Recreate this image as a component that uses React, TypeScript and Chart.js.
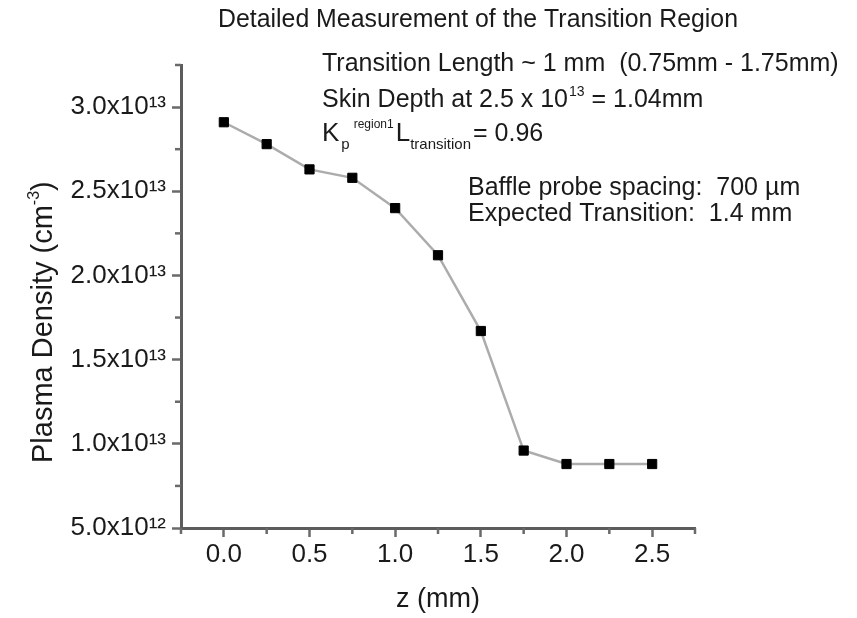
import React, { useEffect, useRef } from 'react';
import { Chart, registerables } from 'chart.js';

Chart.register(...registerables);

// ---- data ----
const zMm = [0, 0.25, 0.5, 0.75, 1.0, 1.25, 1.5, 1.75, 2.0, 2.25, 2.5];
const plasmaDensity = [2.91e13, 2.78e13, 2.63e13, 2.58e13, 2.40e13, 2.12e13, 1.67e13, 9.6e12, 8.8e12, 8.8e12, 8.8e12];

const xMajorTicks = [0, 0.5, 1.0, 1.5, 2.0, 2.5];
const xMinorTicks = [-0.25, 0.25, 0.75, 1.25, 1.75, 2.25, 2.75];
const yMajorTicks = [5e12, 1e13, 1.5e13, 2e13, 2.5e13, 3e13];
const yMinorTicks = [7.5e12, 1.25e13, 1.75e13, 2.25e13, 2.75e13, 3.25e13];

const chartTitle = 'Detailed Measurement of the Transition Region';
const xTitle = 'z (mm)';
const yTitleMain = 'Plasma Density (cm';
const yTitleSup = '-3';
const yTitleEnd = ')';
const noteTransition = 'Transition Length ~ 1 mm  (0.75mm - 1.75mm)';
const noteSkinA = 'Skin Depth at 2.5 x 10';
const noteSkinSup = '13';
const noteSkinB = ' = 1.04mm';
const noteK = 'K';
const noteKSub = 'p';
const noteKSup = 'region1';
const noteL = 'L';
const noteLSub = 'transition';
const noteKEnd = '= 0.96';
const noteBaffle = 'Baffle probe spacing:  700 \u00b5m';
const noteExpected = 'Expected Transition:  1.4 mm';

const FAM = "'Liberation Sans', Arial, Helvetica, sans-serif";
const TEXT = '#1a1a1a';
const AXIS = '#5c5c5c';

const SUP: Record<string, string> = {
  '0': '\u2070', '1': '\u00b9', '2': '\u00b2', '3': '\u00b3', '4': '\u2074',
  '5': '\u2075', '6': '\u2076', '7': '\u2077', '8': '\u2078', '9': '\u2079', '-': '\u207b',
};

function sci(v: number): string {
  const e = Math.floor(Math.log10(v) + 1e-9);
  const m = v / Math.pow(10, e);
  return m.toFixed(1) + 'x10' + String(e).split('').map((c) => SUP[c] || c).join('');
}

type Run = { t: string; size: number; dy?: number; gap?: number };

function drawRuns(ctx: CanvasRenderingContext2D, x: number, y: number, runs: Run[]) {
  let cx = x;
  for (const r of runs) {
    ctx.font = `${r.size}px ${FAM}`;
    cx += r.gap || 0;
    ctx.fillText(r.t, cx, y + (r.dy || 0));
    cx += ctx.measureText(r.t).width;
  }
  return cx;
}

const minorTickPlugin = {
  id: 'minorTicks',
  afterDraw(chart: any) {
    const { ctx, chartArea, scales } = chart;
    ctx.save();
    ctx.strokeStyle = '#6a6a6a';
    ctx.lineWidth = 2.5;
    xMinorTicks.forEach((v) => {
      const px = scales.x.getPixelForValue(v);
      ctx.beginPath();
      ctx.moveTo(px, chartArea.bottom);
      ctx.lineTo(px, chartArea.bottom + 6);
      ctx.stroke();
    });
    yMinorTicks.forEach((v) => {
      const py = scales.y.getPixelForValue(v);
      ctx.beginPath();
      ctx.moveTo(chartArea.left, py);
      ctx.lineTo(chartArea.left - 6, py);
      ctx.stroke();
    });
    ctx.restore();
  },
};

const annotationPlugin = {
  id: 'annotations',
  afterDraw(chart: any) {
    const ctx: CanvasRenderingContext2D = chart.ctx;
    ctx.save();
    ctx.fillStyle = TEXT;
    ctx.textAlign = 'left';
    ctx.textBaseline = 'alphabetic';

    ctx.font = `25px ${FAM}`;
    ctx.fillText(chartTitle, 218, 27, 520);

    drawRuns(ctx, 322, 71, [{ t: noteTransition, size: 25 }]);
    drawRuns(ctx, 322, 107, [
      { t: noteSkinA, size: 25 },
      { t: noteSkinSup, size: 14, dy: -11, gap: 1 },
      { t: noteSkinB, size: 25 },
    ]);
    drawRuns(ctx, 322, 141, [
      { t: noteK, size: 26 },
      { t: noteKSub, size: 15, dy: 8, gap: 2 },
      { t: noteKSup, size: 12, dy: -13, gap: 4 },
      { t: noteL, size: 26, gap: 2 },
      { t: noteLSub, size: 15, dy: 8 },
      { t: noteKEnd, size: 25, gap: 2 },
    ]);
    drawRuns(ctx, 468, 195, [{ t: noteBaffle, size: 25 }]);
    drawRuns(ctx, 468, 221, [{ t: noteExpected, size: 25 }]);

    // y axis title, rotated
    ctx.translate(52, 463);
    ctx.rotate(-Math.PI / 2);
    drawRuns(ctx, 0, 0, [
      { t: yTitleMain, size: 29 },
      { t: yTitleSup, size: 16, dy: -13 },
      { t: yTitleEnd, size: 29 },
    ]);
    ctx.restore();
  },
};

export default function App() {
  const ref = useRef<HTMLCanvasElement>(null);

  useEffect(() => {
    const canvas = ref.current;
    if (!canvas) return;
    const chart = new Chart(canvas, {
      type: 'line',
      data: {
        datasets: [
          {
            data: zMm.map((z, i) => ({ x: z, y: plasmaDensity[i] })),
            borderColor: '#acacac',
            borderWidth: 2.5,
            pointStyle: 'rect',
            pointRadius: 6.5,
            pointBackgroundColor: '#000',
            pointBorderColor: '#000',
            pointBorderWidth: 1,
            tension: 0,
            fill: false,
          },
        ],
      },
      options: {
        animation: false,
        responsive: true,
        maintainAspectRatio: false,
        devicePixelRatio: 1,
        events: [],
        layout: { padding: { top: 65, right: 162, bottom: 0, left: 0 } },
        plugins: {
          legend: { display: false },
          tooltip: { enabled: false },
          title: { display: false },
        },
        scales: {
          x: {
            type: 'linear',
            min: -0.25,
            max: 2.75,
            afterFit: (s: any) => { s.height = 90; },
            afterBuildTicks: (s: any) => { s.ticks = xMajorTicks.map((v) => ({ value: v })); },
            ticks: {
              callback: (v: any) => Number(v).toFixed(1),
              font: { size: 26, family: FAM },
              color: TEXT,
              padding: 2,
              maxRotation: 0,
              autoSkip: false,
            },
            grid: { drawOnChartArea: false, tickLength: 9, tickColor: '#6a6a6a', tickWidth: 2.5 },
            border: { color: AXIS, width: 3 },
            title: {
              display: true,
              text: xTitle,
              font: { size: 27, family: FAM },
              color: TEXT,
              padding: { top: 0, bottom: 2 },
            },
          },
          y: {
            type: 'linear',
            min: 5e12,
            max: 3.25e13,
            afterFit: (s: any) => { s.width = 181; },
            afterBuildTicks: (s: any) => { s.ticks = yMajorTicks.map((v) => ({ value: v })); },
            ticks: {
              callback: (v: any) => sci(Number(v)),
              font: { size: 26, family: FAM },
              color: TEXT,
              padding: 6,
              autoSkip: false,
            },
            grid: { drawOnChartArea: false, tickLength: 9, tickColor: '#6a6a6a', tickWidth: 2.5 },
            border: { color: AXIS, width: 3 },
            title: { display: false },
          },
        },
      },
      plugins: [minorTickPlugin, annotationPlugin],
    });
    return () => chart.destroy();
  }, []);

  return (
    <div style={{ position: 'absolute', left: 0, top: 0, width: 857, height: 618, background: '#fff' }}>
      <canvas ref={ref} />
    </div>
  );
}
